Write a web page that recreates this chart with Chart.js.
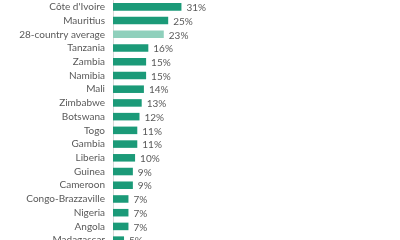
<!DOCTYPE html>
<html>
<head>
<meta charset="utf-8">
<script src="https://cdn.jsdelivr.net/npm/chart.js@4.4.1/dist/chart.umd.min.js"></script>
<style>
html,body{margin:0;padding:0;width:400px;height:240px;overflow:hidden;background:#fff;}
#c{position:absolute;left:0;top:-14px;}
</style>
</head>
<body>
<canvas id="c" width="400" height="275"></canvas>
<script>
const categories = ["Côte d'Ivoire","Mauritius","28-country average","Tanzania","Zambia","Namibia","Mali","Zimbabwe","Botswana","Togo","Gambia","Liberia","Guinea","Cameroon","Congo-Brazzaville","Nigeria","Angola","Madagascar"];
const values = [31,25,23,16,15,15,14,13,12,11,11,10,9,9,7,7,7,5];
const averageLabel = "28-country average";
const mainColor = "#1b9a78";
const avgColor = "#8fd0bc";

const valueLabels = {
  id: 'valueLabels',
  afterDatasetsDraw(chart) {
    const ctx = chart.ctx;
    const meta = chart.getDatasetMeta(0);
    ctx.save();
    ctx.font = "10px Lato";
    ctx.fillStyle = "#595959";
    ctx.textAlign = "left";
    ctx.textBaseline = "middle";
    meta.data.forEach((bar, i) => {
      ctx.fillText(values[i] + "%", bar.x + 5, bar.y + 1);
    });
    ctx.restore();
  }
};

new Chart(document.getElementById('c'), {
  type: 'bar',
  data: {
    labels: categories,
    datasets: [{
      data: values,
      backgroundColor: categories.map(c => c === averageLabel ? avgColor : mainColor),
      barPercentage: 0.55,
      categoryPercentage: 1.0
    }]
  },
  options: {
    indexAxis: 'y',
    responsive: false,
    animation: false,
    layout: { padding: 0 },
    plugins: { legend: { display: false }, tooltip: { enabled: false } },
    scales: {
      x: { display: false, min: 0, max: 130 },
      y: {
        grid: { display: false, drawTicks: false },
        border: { display: true, color: '#d9d9d9', width: 1 },
        ticks: { color: '#595959', font: { family: 'Lato', size: 10 }, padding: 8, autoSkip: false },
        afterFit(scale) { scale.width = 113; }
      }
    }
  },
  plugins: [valueLabels]
});
</script>
</body>
</html>
